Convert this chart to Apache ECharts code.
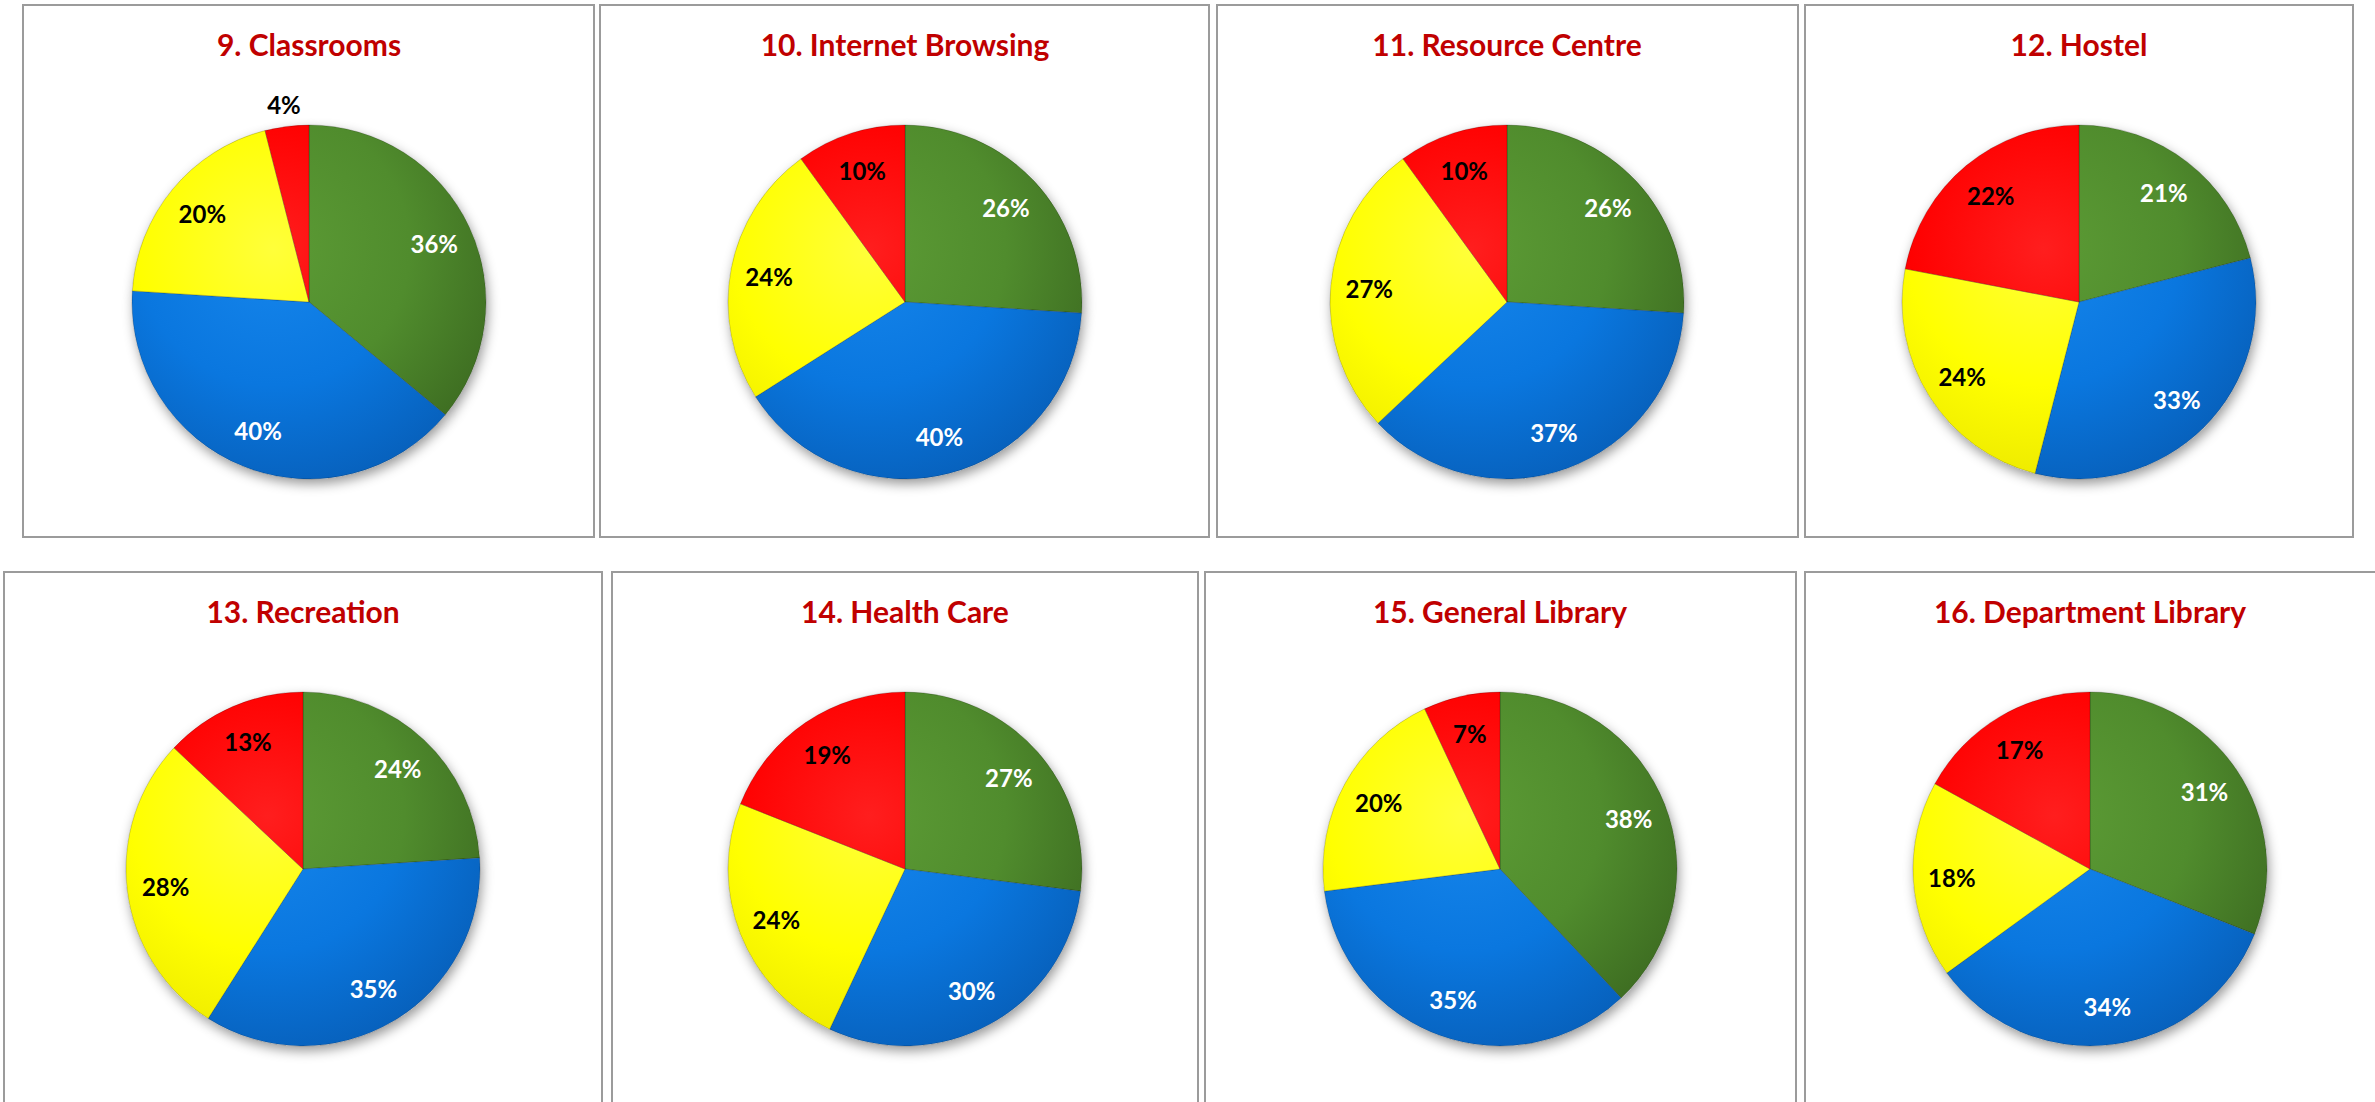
<!DOCTYPE html>
<html>
<head>
<meta charset="utf-8">
<title>Facility ratings</title>
<script src="https://cdn.jsdelivr.net/npm/echarts@6/dist/echarts.min.js"></script>
<style>
  html, body { margin: 0; padding: 0; background: #fff; }
  #chart { width: 2375px; height: 1102px; }
</style>
</head>
<body>
<div id="chart"></div>
<script>
// slices go clockwise from 12 o'clock: green, blue, yellow, red
const categories = ['green', 'blue', 'yellow', 'red'];
const titles = [
  '9. Classrooms', '10. Internet Browsing', '11. Resource Centre', '12. Hostel',
  '13. Recreation', '14. Health Care', '15. General Library', '16. Department Library'
];
const classrooms = [36, 40, 20, 4];
const internetBrowsing = [26, 40, 24, 10];
const resourceCentre = [26, 37, 27, 10];
const hostel = [21, 33, 24, 22];
const recreation = [24, 35, 28, 13];
const healthCare = [27, 30, 24, 19];
const generalLibrary = [38, 35, 20, 7];
const departmentLibrary = [31, 34, 18, 17];
const values = [classrooms, internetBrowsing, resourceCentre, hostel,
  recreation, healthCare, generalLibrary, departmentLibrary];
// slices whose label Excel pushed outside the pie
const outsideLabels = [[3], [], [], [], [], [], [], []];

// panel boxes (x, y, w, h) and pie centres
const panels = [
  [23, 5, 571, 532], [600, 5, 609, 532], [1217, 5, 581, 532], [1805, 5, 548, 532],
  [4, 572, 598, 600], [612, 572, 586, 600], [1205, 572, 591, 600], [1805, 572, 600, 600]
];
const centers = [
  [309, 302], [905, 302], [1507, 302], [2079, 302],
  [303, 869], [905, 869], [1500, 869], [2090, 869]
];
const R = 177;

// light / mid / dark shade per slice colour
const shades = {
  green: ['#5c9b35', '#508c2d', '#3d6c21'],
  blue: ['#1686ec', '#0a77df', '#0760bb'],
  yellow: ['#ffff3a', '#ffff00', '#ebe700'],
  red: ['#ff1e1e', '#ff0000', '#dc0000']
};
const labelColors = ['#fff', '#fff', '#000', '#000'];

const chart = echarts.init(document.getElementById('chart'), null, { renderer: 'svg' });

function fill(name, c) {
  const s = shades[name];
  return new echarts.graphic.RadialGradient(c[0] - 0.2 * R, c[1] - 0.3 * R, 1.4 * R, [
    { offset: 0, color: s[0] },
    { offset: 0.55, color: s[1] },
    { offset: 1, color: s[2] }
  ], true);
}

const labelFont = {
  fontFamily: 'Lato', fontWeight: 'bold', fontSize: 24, formatter: '{c}%'
};

const series = [];
values.forEach(function (vals, p) {
  const c = centers[p];
  const base = {
    type: 'pie', center: c, startAngle: 90, clockwise: true,
    silent: true, emphasis: { disabled: true },
    labelLine: { show: false }
  };
  // shadow underneath
  series.push(Object.assign({}, base, {
    radius: R,
    label: { show: false },
    itemStyle: {
      color: '#fff', shadowBlur: 12, shadowColor: 'rgba(0,0,0,0.4)',
      shadowOffsetX: 2, shadowOffsetY: 5
    },
    data: vals.map((v, i) => ({ value: v, name: categories[i] }))
  }));
  // coloured slices
  series.push(Object.assign({}, base, {
    radius: R,
    label: { show: false },
    itemStyle: { borderColor: 'rgba(0,0,0,0.2)', borderWidth: 1 },
    data: vals.map((v, i) => ({
      value: v, name: categories[i],
      itemStyle: { color: fill(categories[i], c) }
    }))
  }));
  // labels inside the slices
  series.push(Object.assign({}, base, {
    radius: [R * 0.53, R],
    itemStyle: { color: 'rgba(0,0,0,0)' },
    label: Object.assign({ show: true, position: 'inside' }, labelFont),
    data: vals.map((v, i) => ({
      value: v, name: categories[i],
      label: { show: outsideLabels[p].indexOf(i) < 0, color: labelColors[i] }
    }))
  }));
  // labels just outside the pie
  if (outsideLabels[p].length) {
    series.push(Object.assign({}, base, {
      radius: [R, R * 1.22],
      itemStyle: { color: 'rgba(0,0,0,0)' },
      label: Object.assign({ show: true, position: 'inside' }, labelFont),
      data: vals.map((v, i) => ({
        value: v, name: categories[i],
        label: { show: outsideLabels[p].indexOf(i) >= 0, color: '#000' }
      }))
    }));
  }
});

chart.setOption({
  animation: false,
  backgroundColor: '#fff',
  title: titles.map(function (t, p) {
    return {
      text: t, left: centers[p][0], top: panels[p][1] + 39,
      textAlign: 'center', textVerticalAlign: 'middle', padding: 0,
      textStyle: { fontFamily: 'Lato', fontWeight: 'bold', fontSize: 30, color: '#c00000' }
    };
  }),
  graphic: panels.map(function (b) {
    return {
      type: 'rect', silent: true, z: -10,
      shape: { x: b[0], y: b[1], width: b[2], height: b[3] },
      style: { fill: 'none', stroke: '#9b9b9b', lineWidth: 2 }
    };
  }),
  series: series
});
</script>
</body>
</html>
